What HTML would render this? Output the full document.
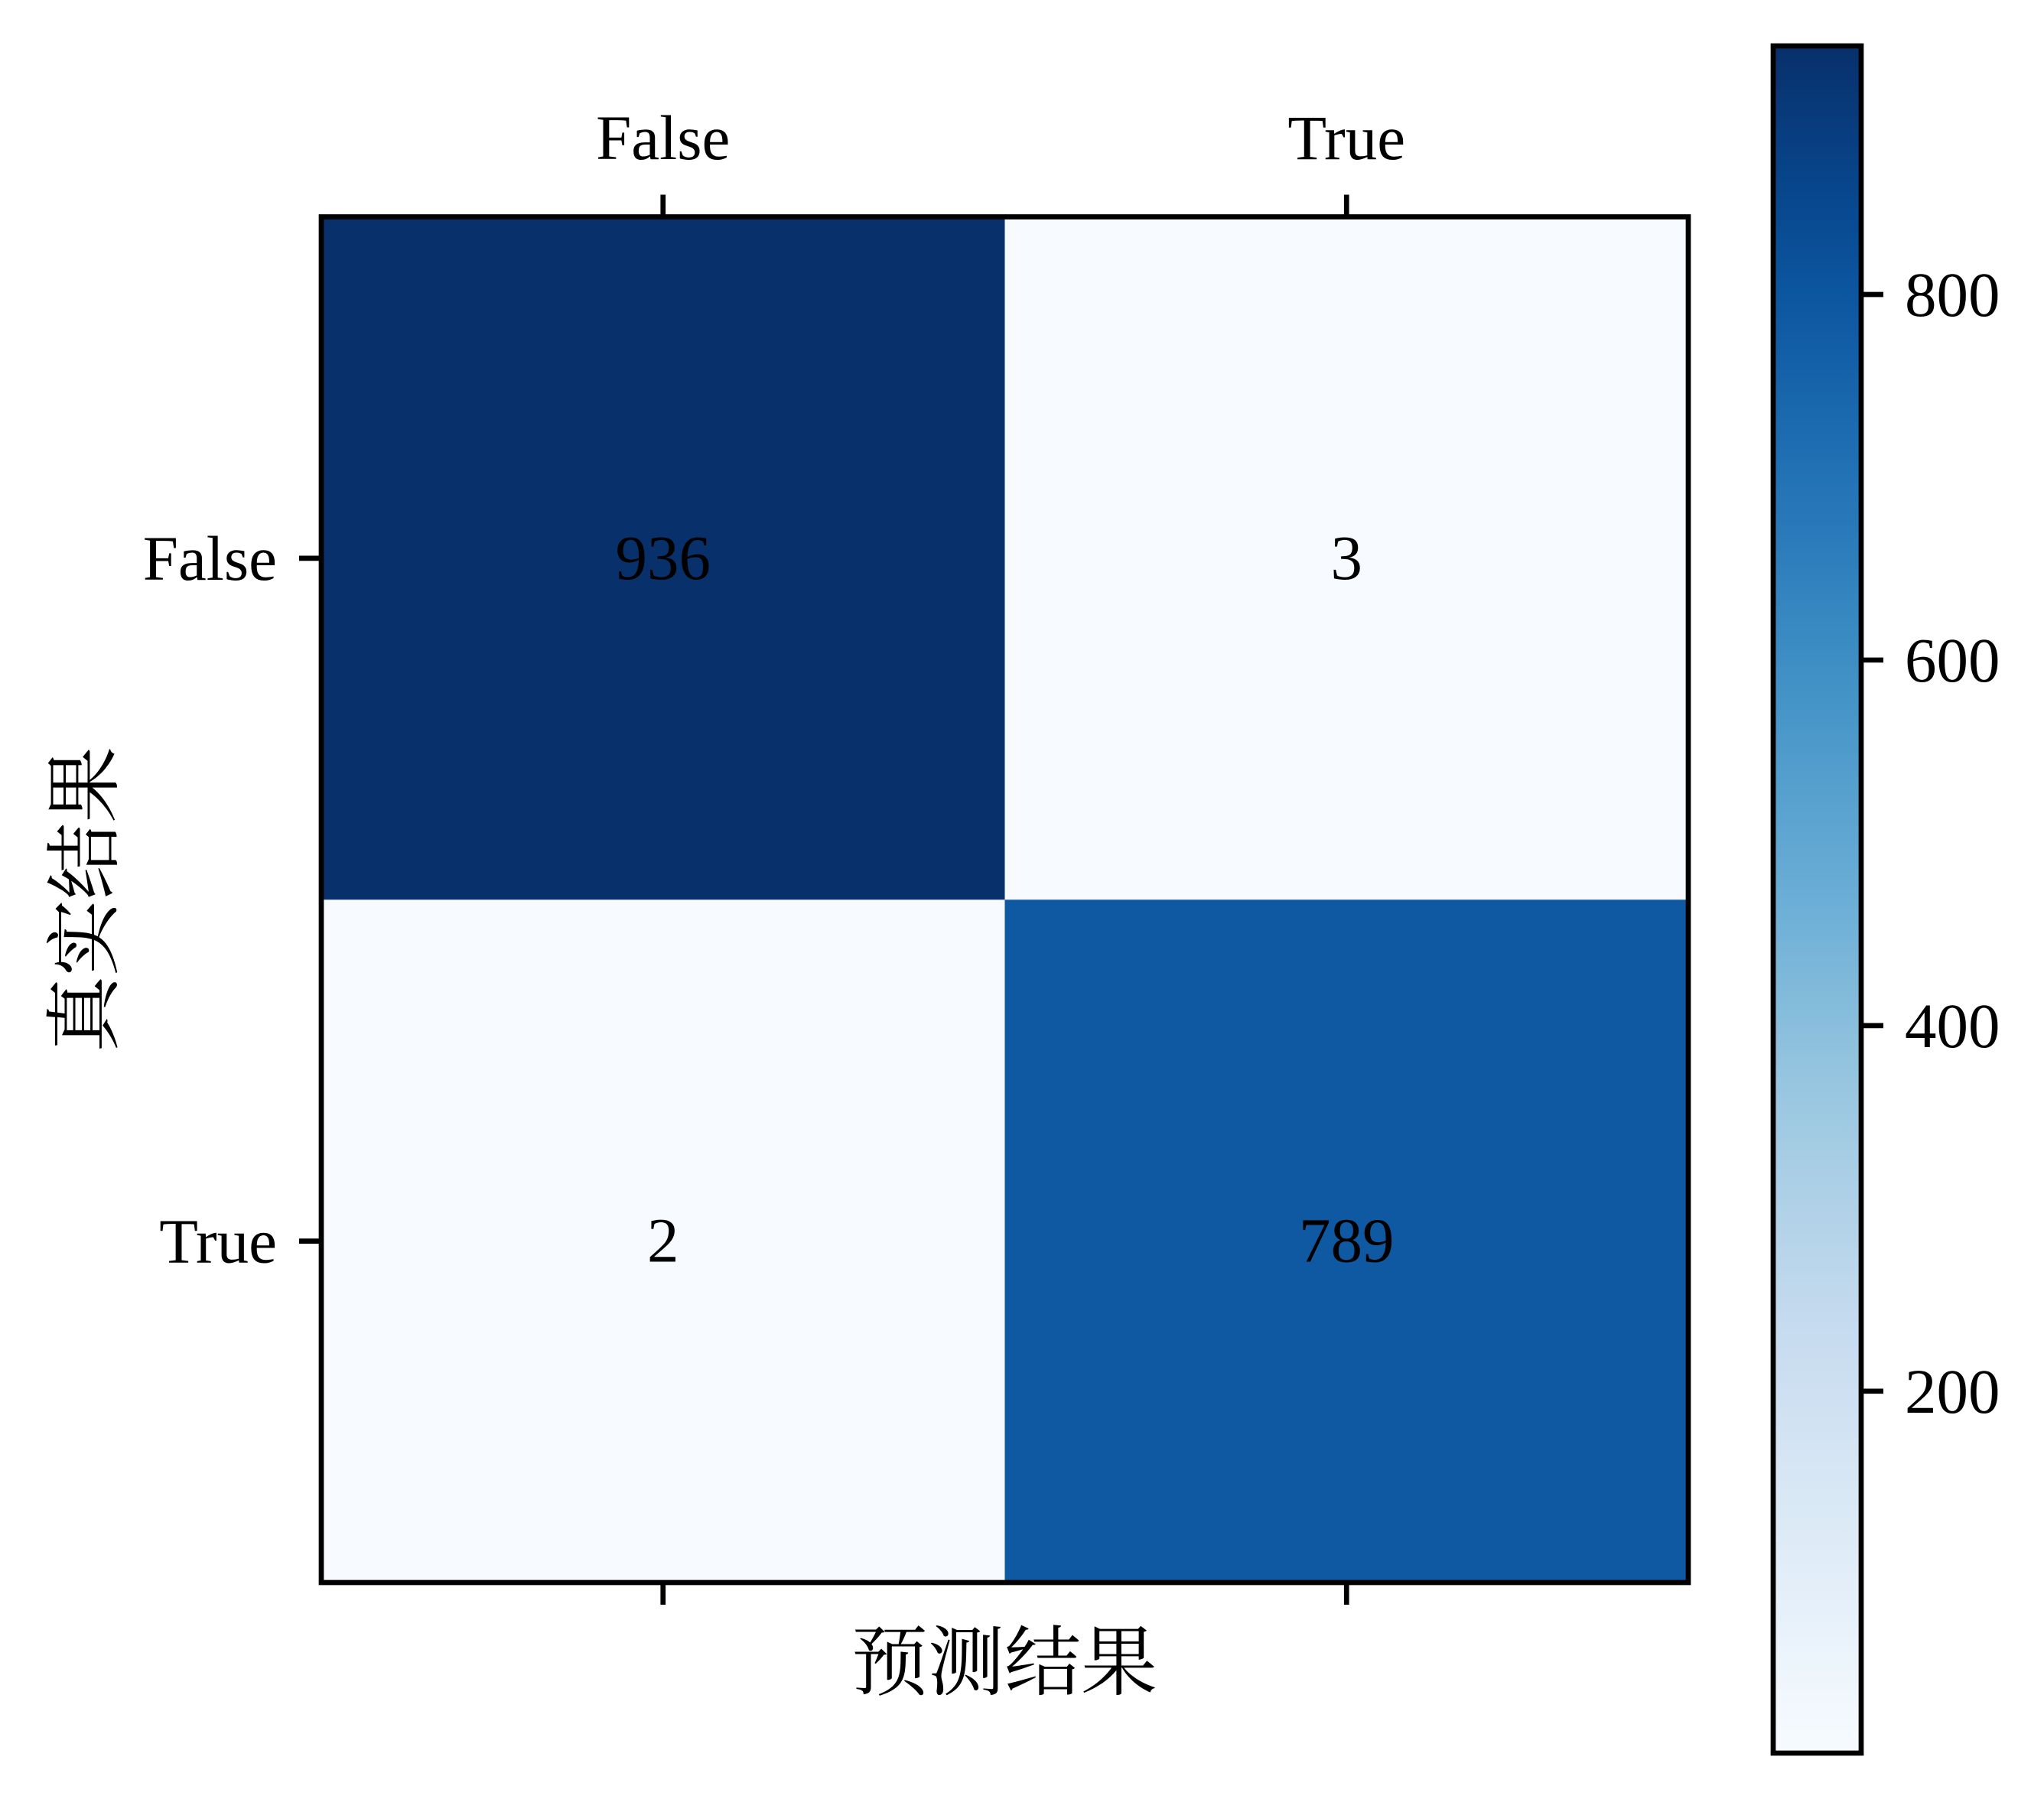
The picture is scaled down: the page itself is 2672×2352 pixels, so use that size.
<!DOCTYPE html>
<html><head><meta charset="utf-8"><style>
html,body{margin:0;padding:0;background:#fff}
svg{display:block}
text{font-family:"Liberation Serif","Noto Serif CJK SC",serif;fill:#000}
</style></head><body>
<svg id="chart" width="2672" height="2352" viewBox="0 0 2672 2352" xmlns="http://www.w3.org/2000/svg">
<rect width="2672" height="2352" fill="#fff"/>
<g id="cells"></g>
<g id="annots"></g>
<g id="axes"></g>
<g id="cbar"></g>
<text x="1313" y="2208" text-anchor="middle" font-size="100">预测结果</text>
<text x="0" y="0" text-anchor="middle" font-size="100" transform="translate(145,1176) rotate(-90)">真实结果</text>
</svg>
<script>
const categories = ["False", "True"];
const row0 = [936, 3];
const row1 = [2, 789];
const cbarTicks = [200, 400, 600, 800];

const NS = "http://www.w3.org/2000/svg";
const matrix = [row0, row1];
const L = 420, R = 2207, T = 283.5, B = 2069;
const n = categories.length;
const cw = (R - L) / n, ch = (B - T) / n;
const all = matrix.flat();
const vmin = Math.min(...all), vmax = Math.max(...all);
const blues = ["#f7fbff","#deebf7","#c6dbef","#9ecae1","#6baed6","#4292c6","#2171b5","#08519c","#08306b"];
function hex(h){return [1,3,5].map(i=>parseInt(h.substr(i,2),16));}
function cmap(t){
  t = Math.max(0, Math.min(1, t));
  const p = t * (blues.length - 1), i = Math.min(Math.floor(p), blues.length - 2), f = p - i;
  const a = hex(blues[i]), b = hex(blues[i+1]);
  return "rgb(" + a.map((v,k)=>Math.round(v + (b[k]-v)*f)).join(",") + ")";
}
function norm(v){return (v - vmin) / (vmax - vmin);}
function xScale(j){return L + cw * (j + 0.5);}
function yScale(i){return T + ch * (i + 0.5);}
function mk(tag, attrs, parent){
  const e = document.createElementNS(NS, tag);
  for (const k in attrs) e.setAttribute(k, attrs[k]);
  parent.appendChild(e);
  return e;
}
const cells = document.getElementById("cells");
const annots = document.getElementById("annots");
const axes = document.getElementById("axes");
const cbar = document.getElementById("cbar");

for (let i = 0; i < n; i++) for (let j = 0; j < n; j++) {
  const v = matrix[i][j];
  const r = mk("rect", {x: xScale(j) - cw/2, y: yScale(i) - ch/2, width: cw + 0.5, height: ch + 0.5, fill: cmap(norm(v))}, cells);
  
  
  const t = mk("text", {x: xScale(j), y: yScale(i) + 27, "text-anchor": "middle", "font-size": 83}, annots);
  t.textContent = v;
  
  
}

const frame = mk("rect", {x: L, y: T, width: R - L, height: B - T, fill: "none", stroke: "#000", "stroke-width": 6.7}, axes);


for (let j = 0; j < n; j++) {
  const x = xScale(j);
  const t1 = mk("line", {x1: x, x2: x, y1: T, y2: T - 29, stroke: "#000", "stroke-width": 6.7}, axes);
  
  
  const t2 = mk("line", {x1: x, x2: x, y1: B, y2: B + 29, stroke: "#000", "stroke-width": 6.7}, axes);
  
  
  const lb = mk("text", {x: x, y: 208, "text-anchor": "middle", "font-size": 83}, axes);
  lb.textContent = categories[j];
  
  
}
for (let i = 0; i < n; i++) {
  const y = yScale(i);
  const tk = mk("line", {x1: L, x2: L - 29, y1: y, y2: y, stroke: "#000", "stroke-width": 6.7}, axes);
  
  
  const lb = mk("text", {x: 362, y: y + 28, "text-anchor": "end", "font-size": 83}, axes);
  lb.textContent = categories[i];
  
  
}

// colorbar
const CL = 2318, CR = 2433, CT = 60, CB = 2292;
function cbY(v){return CB - (v - vmin) / (vmax - vmin) * (CB - CT);}
const defs = mk("defs", {}, cbar);
const grad = mk("linearGradient", {id: "bluesGrad", x1: 0, y1: 1, x2: 0, y2: 0}, defs);
for (let k = 0; k <= 20; k++) mk("stop", {offset: k/20, "stop-color": cmap(k/20)}, grad);
const cr = mk("rect", {x: CL, y: CT, width: CR - CL, height: CB - CT, fill: "url(#bluesGrad)", stroke: "#000", "stroke-width": 6.7}, cbar);


cbarTicks.forEach(v => {
  const y = cbY(v);
  const tk = mk("line", {x1: CR, x2: CR + 29, y1: y, y2: y, stroke: "#000", "stroke-width": 6.7}, cbar);
  
  
  const lb = mk("text", {x: 2490, y: y + 28, "font-size": 83}, cbar);
  lb.textContent = v;
  
  
});
</script>
</body></html>
